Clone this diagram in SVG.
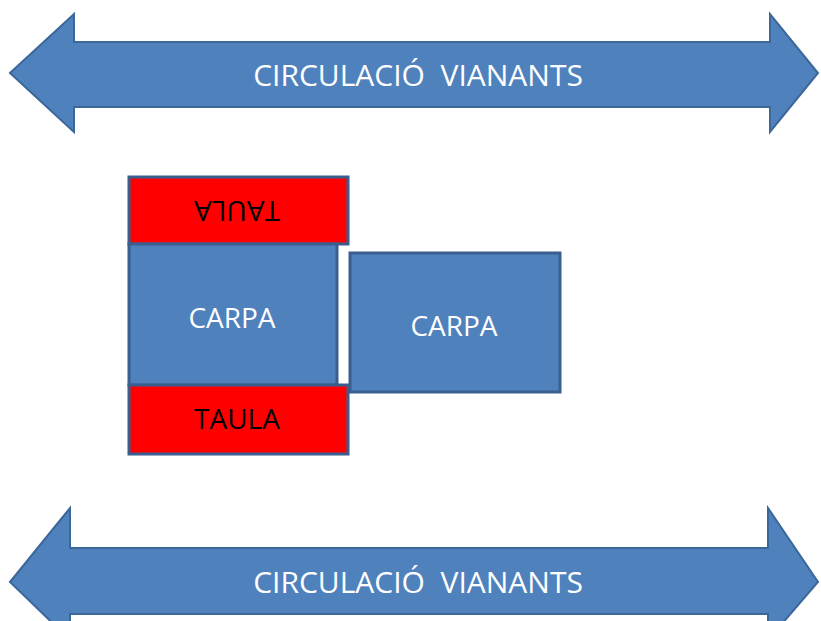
<svg xmlns="http://www.w3.org/2000/svg" width="821" height="621" viewBox="0 0 821 621">
<style>
.arrow{fill:#4f81bd;stroke:#3b679a;stroke-width:2;stroke-linejoin:miter}
.box{fill:#4f81bd;stroke:#3a5f8f;stroke-width:3}
.red{fill:#ff0000;stroke:#3a5f8f;stroke-width:3}
.wt{fill:#ffffff;font-family:"Open Sans","Liberation Sans",sans-serif;text-anchor:middle}
.bt{fill:#000000;font-family:"Open Sans","Liberation Sans",sans-serif;text-anchor:middle}
.big{font-size:30px}
.mid{font-size:28px}
</style>
<rect width="821" height="621" fill="#ffffff"/>
<g id="arrow-top">
<path class="arrow" d="M10,73 L74,14 L74,42 L770,42 L770,14 L818,73 L770,132 L770,107 L74,107 L74,132 Z"/>
<text class="wt big" x="418" y="86" xml:space="preserve">CIRCULACIÓ  VIANANTS</text>
</g>
<g id="taula-top">
<rect class="red" x="129" y="177" width="219" height="67"/>
<text class="bt mid" transform="translate(237,201) rotate(180)">TAULA</text>
</g>
<g id="carpa-left">
<rect class="box" x="129" y="244" width="208" height="141"/>
<text class="wt mid" x="232" y="328">CARPA</text>
</g>
<g id="taula-bottom">
<rect class="red" x="129" y="385" width="219" height="69"/>
<text class="bt mid" x="237" y="429">TAULA</text>
</g>
<g id="carpa-right">
<rect class="box" x="350" y="253" width="210" height="139"/>
<text class="wt mid" x="454" y="336">CARPA</text>
</g>
<g id="arrow-bottom">
<path class="arrow" d="M10,582 L70,508 L70,548 L768,548 L768,508 L818,582 L768,640 L768,614 L70,614 L70,640 Z"/>
<text class="wt big" x="418" y="593" xml:space="preserve">CIRCULACIÓ  VIANANTS</text>
</g>
<g id="connectors"></g>
</svg>
